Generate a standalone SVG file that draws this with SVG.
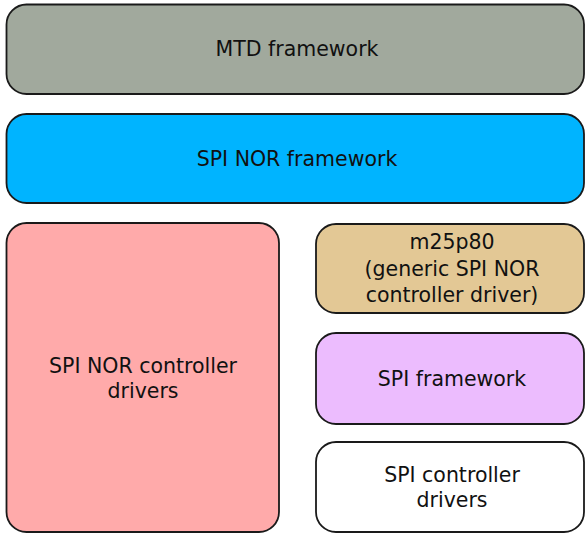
<svg xmlns="http://www.w3.org/2000/svg" width="585" height="533" viewBox="0 0 585 533">
<style>
.b{stroke:#1a1a1a;stroke-width:1.8}
text{font-family:"DejaVu Sans",sans-serif;font-size:20.5px;fill:#111;text-anchor:middle}
</style>
<rect x="0" y="0" width="585" height="533" fill="#fff"/>
<g id="mtd"><rect class="b" x="6.5" y="4.5" width="577.5" height="89.5" rx="20" fill="#a1a99d"/><text x="297" y="56">MTD framework</text></g>
<g id="spinor"><rect class="b" x="6.5" y="114" width="577.5" height="89" rx="20" fill="#00b4ff"/><text x="297" y="166">SPI NOR framework</text></g>
<g id="ctrl"><rect class="b" x="6.5" y="223" width="272.5" height="309" rx="20" fill="#ffaaaa"/><text x="143" y="373">SPI NOR controller</text><text x="143" y="398">drivers</text></g>
<g id="m25p80"><rect class="b" x="316" y="224" width="268" height="89" rx="20" fill="#e3c895"/><text x="452" y="249">m25p80</text><text x="452" y="276">(generic SPI NOR</text><text x="452" y="302">controller driver)</text></g>
<g id="spifw"><rect class="b" x="316" y="333" width="268" height="91" rx="20" fill="#ecbcfe"/><text x="452" y="386">SPI framework</text></g>
<g id="spictrl"><rect class="b" x="316" y="442" width="268" height="90" rx="20" fill="#ffffff"/><text x="452" y="482">SPI controller</text><text x="452" y="507">drivers</text></g>
<g id="connectors"/>
</svg>
